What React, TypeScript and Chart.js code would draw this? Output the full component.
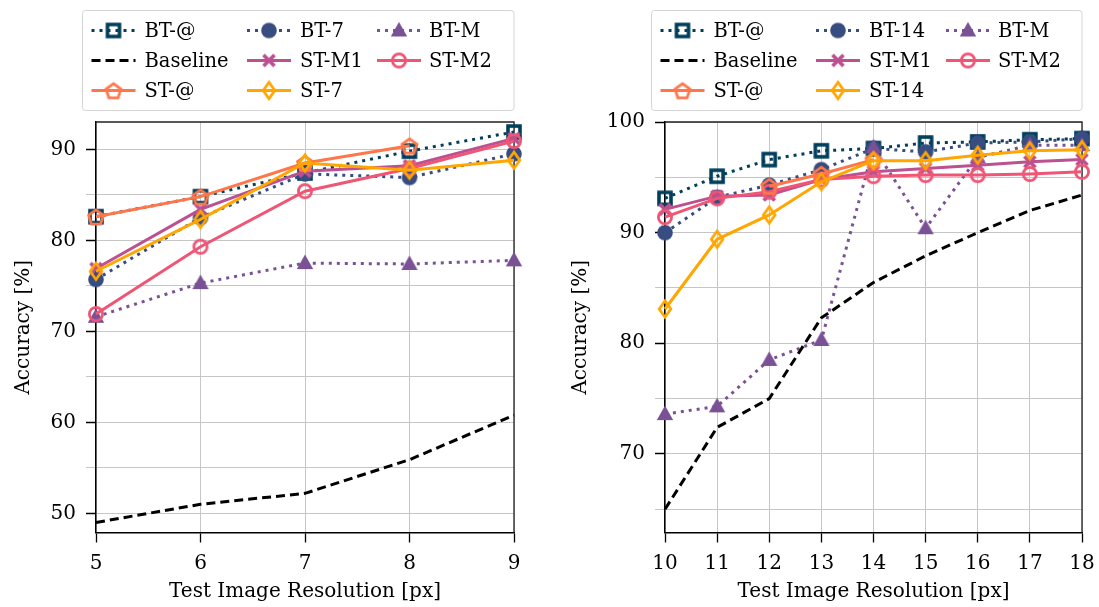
import React, { useEffect, useRef } from 'react';
import { Chart, registerables } from 'chart.js';

Chart.register(...registerables);

// ---------------- data ----------------
const leftRes = [5, 6, 7, 8, 9];
const rightRes = [10, 11, 12, 13, 14, 15, 16, 17, 18];

const leftBTAt = [82.6, 84.8, 87.4, 89.8, 91.9];
const leftBT7 = [75.7, 82.5, 87.3, 86.9, 89.5];
const leftBTM = [71.6, 75.3, 77.5, 77.4, 77.8];
const leftBaseline = [49.0, 51.0, 52.2, 55.9, 60.8];
const leftSTM1 = [76.9, 83.4, 87.6, 88.2, 91.2];
const leftSTM2 = [71.9, 79.3, 85.4, 87.9, 90.9];
const leftSTAt = [82.6, 84.8, 88.5, 90.4, null];
const leftST7 = [76.6, 82.3, 88.5, 87.7, 88.8];

const rightBTAt = [93.1, 95.1, 96.6, 97.4, 97.6, 98.1, 98.2, 98.4, 98.5];
const rightBT14 = [90.0, 93.2, 94.3, 95.7, 97.6, 97.3, 98.1, 98.2, 98.5];
const rightBTM = [73.6, 74.3, 78.5, 80.3, 97.7, 90.4, 96.8, 97.9, 97.9];
const rightBaseline = [65.0, 72.4, 75.0, 82.3, 85.5, 87.9, 90.0, 92.0, 93.4];
const rightSTM1 = [92.1, 93.3, 93.4, 94.8, 95.5, 95.8, 96.1, 96.4, 96.6];
const rightSTM2 = [91.4, 93.1, 93.7, 94.8, 95.1, 95.2, 95.2, 95.3, 95.5];
const rightSTAt = [null, null, 94.2, 95.3, 96.6, null, null, null, null];
const rightST14 = [83.1, 89.4, 91.6, 94.6, 96.5, 96.5, 97.0, 97.4, 97.5];

const leftLabels = ['BT-@', 'BT-7', 'BT-M', 'Baseline', 'ST-M1', 'ST-M2', 'ST-@', 'ST-7'];
const rightLabels = ['BT-@', 'BT-14', 'BT-M', 'Baseline', 'ST-M1', 'ST-M2', 'ST-@', 'ST-14'];

const xTitle = 'Test Image Resolution [px]';
const yTitle = 'Accuracy [%]';

// ---------------- styles ----------------
const FONT = 'DejaVu Serif';
type Style = { color: string; dash: number[]; marker: string | null };
const STYLES: Style[] = [
  { color: '#003f5c', dash: [3, 5], marker: 'square' },
  { color: '#374c80', dash: [3, 5], marker: 'circleFilled' },
  { color: '#7a5195', dash: [3, 5], marker: 'triangle' },
  { color: '#000000', dash: [9, 5], marker: null },
  { color: '#bc5090', dash: [], marker: 'x' },
  { color: '#ef5675', dash: [], marker: 'circleHollow' },
  { color: '#ff764a', dash: [], marker: 'pentagon' },
  { color: '#ffa600', dash: [], marker: 'diamond' },
];

function makeMarker(kind: string, color: string): HTMLCanvasElement {
  const c = document.createElement('canvas');
  c.width = 24;
  c.height = 24;
  const ctx = c.getContext('2d')!;
  const m = 12;
  ctx.strokeStyle = color;
  ctx.fillStyle = color;
  ctx.lineJoin = 'miter';
  if (kind === 'square') {
    ctx.lineWidth = 3.6;
    ctx.strokeRect(m - 6, m - 6, 12, 12);
  } else if (kind === 'circleFilled') {
    ctx.beginPath();
    ctx.arc(m, m, 7.8, 0, Math.PI * 2);
    ctx.fill();
  } else if (kind === 'triangle') {
    ctx.beginPath();
    ctx.moveTo(m, m - 8.5);
    ctx.lineTo(m - 8.2, m + 6);
    ctx.lineTo(m + 8.2, m + 6);
    ctx.closePath();
    ctx.fill();
  } else if (kind === 'x') {
    ctx.lineWidth = 3.8;
    ctx.beginPath();
    ctx.moveTo(m - 5.5, m - 5.5);
    ctx.lineTo(m + 5.5, m + 5.5);
    ctx.moveTo(m + 5.5, m - 5.5);
    ctx.lineTo(m - 5.5, m + 5.5);
    ctx.stroke();
  } else if (kind === 'circleHollow') {
    ctx.lineWidth = 2.8;
    ctx.beginPath();
    ctx.arc(m, m, 6.6, 0, Math.PI * 2);
    ctx.stroke();
  } else if (kind === 'pentagon') {
    ctx.lineWidth = 2.8;
    ctx.beginPath();
    for (let i = 0; i < 5; i++) {
      const a = -Math.PI / 2 + (i * 2 * Math.PI) / 5;
      const px = m + 7.8 * Math.cos(a);
      const py = m + 1 + 7.8 * Math.sin(a);
      if (i === 0) ctx.moveTo(px, py);
      else ctx.lineTo(px, py);
    }
    ctx.closePath();
    ctx.stroke();
  } else if (kind === 'diamond') {
    ctx.lineWidth = 2.8;
    ctx.beginPath();
    ctx.moveTo(m, m - 8.2);
    ctx.lineTo(m + 5.8, m);
    ctx.lineTo(m, m + 8.2);
    ctx.lineTo(m - 5.8, m);
    ctx.closePath();
    ctx.stroke();
  }
  return c;
}

type PanelCfg = {
  res: number[];
  series: (number | null)[][];
  labels: string[];
  yMin: number;
  yMax: number;
  yWidth: number;
  plotRight: number;
  yTitlePad: number;
  width: number;
};

const framePlugin = {
  id: 'frame',
  beforeDatasetsDraw(chart: any) {
    const { ctx, chartArea } = chart;
    ctx.save();
    ctx.strokeStyle = '#222';
    ctx.lineWidth = 1.3;
    ctx.beginPath();
    ctx.moveTo(chartArea.left, chartArea.top);
    ctx.lineTo(chartArea.right, chartArea.top);
    ctx.lineTo(chartArea.right, chartArea.bottom);
    ctx.stroke();
    ctx.restore();
  },
};

function makeLegendPlugin(labels: string[], markers: (HTMLCanvasElement | null)[]) {
  return {
    id: 'gridLegend',
    afterDraw(chart: any) {
      const { ctx, chartArea } = chart;
      const L = chartArea.left;
      ctx.save();
      const bx = L - 13.5;
      const by = 10.5;
      const bw = chartArea.right - bx;
      const bh = 100;
      ctx.fillStyle = 'rgba(255,255,255,0.85)';
      ctx.strokeStyle = '#d4d4d4';
      ctx.lineWidth = 1;
      ctx.beginPath();
      ctx.roundRect(bx, by, bw, bh, 3);
      ctx.fill();
      ctx.stroke();
      const rows = [30.5, 60.5, 90.5];
      const colLine = [-4.5, 151, 281];
      const colText = [48.5, 204, 333];
      labels.forEach((lab, i) => {
        const r = Math.floor(i / 3);
        const c = i % 3;
        const y = rows[r];
        const x0 = L + colLine[c];
        const st = STYLES[i];
        ctx.strokeStyle = st.color;
        ctx.lineWidth = 3;
        ctx.setLineDash(st.dash);
        ctx.beginPath();
        ctx.moveTo(x0, y);
        ctx.lineTo(x0 + 44, y);
        ctx.stroke();
        ctx.setLineDash([]);
        const mk = markers[i];
        if (mk) ctx.drawImage(mk, x0 + 22 - mk.width / 2, y - mk.height / 2);
        ctx.fillStyle = '#000';
        ctx.font = `19.5px "${FONT}"`;
        ctx.textBaseline = 'middle';
        ctx.textAlign = 'left';
        ctx.fillText(lab, L + colText[c], y + 1);
      });
      ctx.restore();
    },
  };
}

function Panel({ cfg }: { cfg: PanelCfg }) {
  const ref = useRef<HTMLCanvasElement | null>(null);
  useEffect(() => {
    if (!ref.current) return;
    const markers = STYLES.map((s) => (s.marker ? makeMarker(s.marker, s.color) : null));
    const N = cfg.series.length;
    const datasets = cfg.series.map((vals, i) => {
      const st = STYLES[i];
      const pts = cfg.res
        .map((x, j) => ({ x, y: vals[j] }))
        .filter((p) => p.y !== null && p.y !== undefined);
      return {
        label: cfg.labels[i],
        data: pts,
        borderColor: st.color,
        backgroundColor: st.color,
        borderWidth: 3,
        borderDash: st.dash,
        pointStyle: markers[i] || 'circle',
        pointRadius: st.marker ? 6 : 0,
        pointHoverRadius: st.marker ? 6 : 0,
        tension: 0,
        clip: false,
        order: N - i,
      };
    });
    const tickFont = { family: FONT, size: 20 };
    const chart = new Chart(ref.current, {
      type: 'line',
      data: { datasets },
      options: {
        responsive: false,
        animation: false,
        events: [],
        layout: { padding: { top: 122, right: cfg.width - cfg.plotRight, left: 0, bottom: 0 } },
        plugins: { legend: { display: false }, tooltip: { enabled: false } },
        scales: {
          x: {
            type: 'linear',
            min: cfg.res[0],
            max: cfg.res[cfg.res.length - 1],
            ticks: { stepSize: 1, font: tickFont, color: '#000', padding: 9, maxRotation: 0, autoSkip: false },
            grid: { color: '#c6c6c6', lineWidth: 1, tickLength: 10, tickColor: '#000', tickWidth: 1.3 },
            border: { color: '#000', width: 1.5 },
            title: { display: true, text: xTitle, font: tickFont, color: '#000', padding: { top: 0, bottom: 3 } },
            afterFit: (s: any) => {
              s.height = 74.5;
              s.paddingLeft = 0;
              s.paddingRight = 0;
            },
          },
          y: {
            type: 'linear',
            min: cfg.yMin,
            max: cfg.yMax,
            ticks: {
              stepSize: 5,
              includeBounds: false,
              font: tickFont,
              color: '#000',
              padding: 10,
              autoSkip: false,
              callback: (v: any) => (Math.round(v) % 10 === 0 ? String(Math.round(v)) : ''),
            },
            grid: {
              color: '#c6c6c6',
              lineWidth: 1,
              tickLength: 10,
              tickColor: (c: any) => (c.tick && Math.round(c.tick.value) % 10 === 0 ? '#000' : '#c6c6c6'),
              tickWidth: (c: any) => (c.tick && Math.round(c.tick.value) % 10 === 0 ? 1.5 : 1),
            },
            border: { color: '#000', width: 1.5 },
            title: { display: true, text: yTitle, font: tickFont, color: '#000', padding: { top: cfg.yTitlePad, bottom: 0 } },
            afterFit: (s: any) => {
              s.width = cfg.yWidth;
              s.paddingTop = 0;
              s.paddingBottom = 0;
            },
          },
        },
      } as any,
      plugins: [framePlugin, makeLegendPlugin(cfg.labels, markers)],
    });
    return () => chart.destroy();
  }, [cfg]);
  return <canvas ref={ref} width={cfg.width} height={607} style={{ display: 'block' }} />;
}

const leftCfg: PanelCfg = {
  res: leftRes,
  series: [leftBTAt, leftBT7, leftBTM, leftBaseline, leftSTM1, leftSTM2, leftSTAt, leftST7],
  labels: leftLabels,
  yMin: 47.9,
  yMax: 93.0,
  yWidth: 96,
  plotRight: 514,
  yTitlePad: 12,
  width: 549,
};

const rightCfg: PanelCfg = {
  res: rightRes,
  series: [rightBTAt, rightBT14, rightBTM, rightBaseline, rightSTM1, rightSTM2, rightSTAt, rightST14],
  labels: rightLabels,
  yMin: 62.9,
  yMax: 100,
  yWidth: 116,
  plotRight: 533,
  yTitlePad: 20,
  width: 550,
};

export default function App() {
  return (
    <div style={{ position: 'fixed', left: 0, top: 0, width: 1099, height: 607, background: '#fff' }}>
      <div style={{ position: 'absolute', left: 0, top: 0 }}>
        <Panel cfg={leftCfg} />
      </div>
      <div style={{ position: 'absolute', left: 549, top: 0 }}>
        <Panel cfg={rightCfg} />
      </div>
    </div>
  );
}
